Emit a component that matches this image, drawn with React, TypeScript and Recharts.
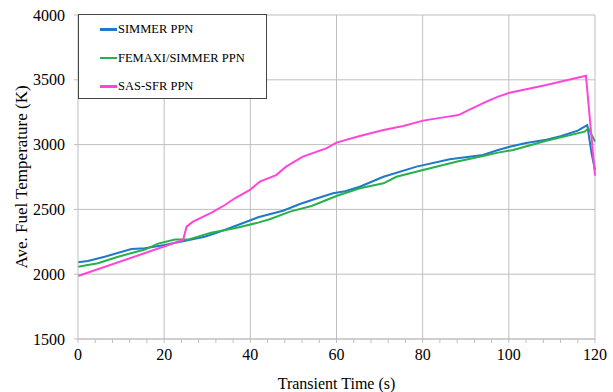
import { LineChart, Line, XAxis, YAxis, CartesianGrid, ReferenceLine, Legend } from "recharts";

const simmerTime = [0, 2.3, 6.2, 12.4, 15.5, 20.1, 23.2, 29.4, 32.5, 37.1, 41.8, 43.8, 47.6, 51.5, 55, 59.2, 62, 65.4, 70.9, 78.6, 86.3, 94, 97.5, 100.2, 104, 108.7, 112, 116, 118.2, 119.2, 120];
const simmerTemp = [2092, 2102, 2135, 2194, 2200, 2225, 2246, 2289, 2323, 2380, 2439, 2457, 2490, 2542, 2580, 2625, 2640, 2675, 2752, 2830, 2887, 2920, 2958, 2984, 3012, 3038, 3065, 3108, 3151, 2933, 2804];

const femaxiTime = [0, 4.6, 9.3, 15.5, 18.6, 22.5, 25.5, 30.9, 36.4, 41.8, 44.5, 49.2, 54.2, 60, 65.4, 70.9, 73.9, 80.1, 87.8, 94, 97.5, 101, 108.7, 117.6, 118.5, 120];
const femaxiTemp = [2058, 2084, 2135, 2190, 2236, 2267, 2267, 2320, 2354, 2398, 2424, 2483, 2526, 2603, 2663, 2701, 2752, 2804, 2868, 2912, 2938, 2958, 3030, 3100, 3126, 3023];

const sasTime = [0, 24.4, 25.2, 26.7, 31, 34.1, 36.4, 39.9, 42.2, 46, 48.3, 52.2, 57.6, 60, 65.4, 70.9, 75.5, 80.1, 84.8, 88.3, 91, 94.8, 97.5, 100.2, 108.7, 117.9, 120];
const sasTemp = [1986, 2264, 2367, 2405, 2475, 2534, 2586, 2650, 2714, 2765, 2830, 2907, 2971, 3015, 3066, 3113, 3143, 3185, 3210, 3228, 3272, 3331, 3370, 3400, 3460, 3532, 2760];

const xTicks = [0, 4, 8, 12, 16, 20, 24, 28, 32, 36, 40, 44, 48, 52, 56, 60, 64, 68, 72, 76, 80, 84, 88, 92, 96, 100, 104, 108, 112, 116, 120];
const xMajor = [20, 40, 60, 80, 100, 120];
const yTicks = [1500, 2000, 2500, 3000, 3500, 4000];

const toPoints = (time: number[], temp: number[]) => time.map((t, i) => ({ t, temp: temp[i] }));

const series = [
  { name: "SIMMER PPN", color: "#1f78c8", data: toPoints(simmerTime, simmerTemp) },
  { name: "FEMAXI/SIMMER PPN", color: "#28b04b", data: toPoints(femaxiTime, femaxiTemp) },
  { name: "SAS-SFR PPN", color: "#ff45d8", data: toPoints(sasTime, sasTemp) },
];

const font = "'Liberation Serif', 'Times New Roman', serif";
const gridColor = "#bfbfbf";

// custom ticks so the serif font actually sticks
function XTick({ x, y, payload }: any) {
  const v = payload.value as number;
  if (v % 20 !== 0) return <g />;
  return (
    <text x={x} y={y} dy="0.71em" textAnchor="middle" fill="#000" fontSize={16} fontFamily={font}>
      {v}
    </text>
  );
}

function YTick({ x, y, payload }: any) {
  return (
    <text x={x} y={y} dy="0.355em" textAnchor="end" fill="#000" fontSize={16} fontFamily={font}>
      {payload.value}
    </text>
  );
}

function LegendBox() {
  return (
    <div style={{ width: 187, height: 83, border: "1px solid #444", background: "#fff" }}>
      {series.map((s) => (
        <div key={s.name} style={{ display: "flex", alignItems: "center", height: 28.7, marginLeft: 21 }}>
          <div style={{ width: 17, height: 2.5, background: s.color }} />
          <span style={{ fontFamily: font, fontSize: 12.5, color: "#000", marginLeft: 1 }}>{s.name}</span>
        </div>
      ))}
    </div>
  );
}

export default function App() {
  return (
    <div style={{ position: "absolute", left: 0, top: 0, fontFamily: font }}>
      <LineChart width={613} height={392} margin={{ top: 15, right: 18, bottom: 0, left: 0 }}>
        <CartesianGrid vertical={false} stroke={gridColor} />
        {xMajor.map((x) => (
          <ReferenceLine key={x} x={x} stroke={gridColor} />
        ))}
        <XAxis
          dataKey="t"
          type="number"
          domain={[0, 120]}
          ticks={xTicks}
          interval={0}
          height={53}
          tickSize={4}
          tickMargin={6}
          stroke={gridColor}
          tick={<XTick />}
          label={{ value: "Transient Time (s)", position: "insideBottom", offset: 3, fill: "#000", fontSize: 16, fontFamily: font }}
        />
        <YAxis
          type="number"
          domain={[1500, 4000]}
          ticks={yTicks}
          width={78}
          tickSize={4}
          tickMargin={9}
          stroke={gridColor}
          tick={<YTick />}
          label={{
            value: "Ave. Fuel Temperature (K)",
            angle: -90,
            position: "insideLeft",
            offset: 21,
            fill: "#000",
            fontSize: 17,
            fontFamily: font,
            style: { textAnchor: "middle" },
          }}
        />
        <Legend
          layout="vertical"
          align="center"
          verticalAlign="middle"
          wrapperStyle={{ left: 78, top: 14, width: 189, height: 85 }}
          content={() => <LegendBox />}
        />
        {series.map((s) => (
          <Line
            key={s.name}
            data={s.data}
            dataKey="temp"
            name={s.name}
            type="linear"
            stroke={s.color}
            strokeWidth={2}
            dot={false}
            isAnimationActive={false}
          />
        ))}
      </LineChart>
    </div>
  );
}
